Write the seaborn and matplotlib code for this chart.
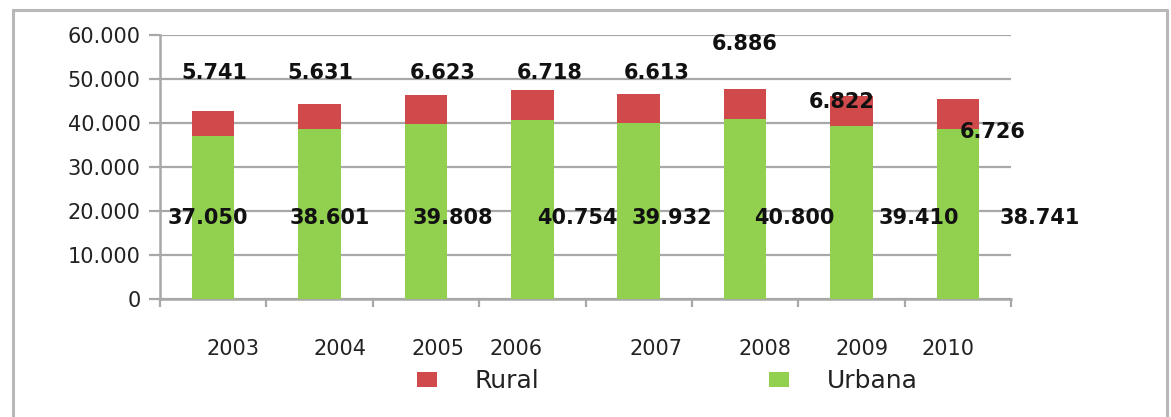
import matplotlib
matplotlib.use("Agg")
import matplotlib.pyplot as plt
from matplotlib.lines import Line2D
from matplotlib.patches import Patch
import seaborn as sns
import pandas as pd

# ---- data ----
years = ["2003", "2004", "2005", "2006", "2007", "2008", "2009", "2010"]
urbana = [37050, 38601, 39808, 40754, 39932, 40800, 39410, 38741]
rural = [5741, 5631, 6623, 6718, 6613, 6886, 6822, 6726]
urbana_labels = ["37.050", "38.601", "39.808", "40.754", "39.932", "40.800", "39.410", "38.741"]
rural_labels = ["5.741", "5.631", "6.623", "6.718", "6.613", "6.886", "6.822", "6.726"]
y_ticks = [0, 10000, 20000, 30000, 40000, 50000, 60000]
y_tick_labels = ["0", "10.000", "20.000", "30.000", "40.000", "50.000", "60.000"]

# ---- layout (label placements as in the reference) ----
urb_lab_x = [-0.05, 1.10, 2.25, 3.42, 4.31, 5.46, 6.63, 7.77]
urb_lab_y = [18400] * 8
rur_lab_x = [0.01, 1.01, 2.16, 3.16, 4.17, 5.00, 5.91, 7.33]
rur_lab_y = [51400, 51400, 51400, 51400, 51400, 58000, 44700, 37900]
year_lab_x = [0.19, 1.19, 2.11, 2.85, 4.16, 5.19, 6.10, 6.91]

RED = "#d04a4c"
GREEN = "#92d050"
GRID = "#a8a8a8"
TXT = "#222222"

df = pd.DataFrame({"year": years, "urbana": urbana, "rural": rural})
df["total"] = df["urbana"] + df["rural"]

sns.set_theme(style="white")
plt.rcParams["font.family"] = ["DejaVu Sans"]

W, H = 1171, 417
fig = plt.figure(figsize=(W / 100, H / 100), dpi=100)
ax = fig.add_axes([160 / W, 1 - 299 / H, (1011 - 160) / W, (299 - 35) / H])

sns.barplot(data=df, x="year", y="total", color=RED, width=0.4,
            saturation=1, ax=ax, zorder=3, linewidth=0)
sns.barplot(data=df, x="year", y="urbana", color=GREEN, width=0.4,
            saturation=1, ax=ax, zorder=4, linewidth=0)

ax.set_xlim(-0.5, len(years) - 0.5)
ax.set_ylim(0, 60000)
ax.set_xlabel("")
ax.set_ylabel("")

ax.set_yticks(y_ticks)
ax.set_yticklabels(y_tick_labels, fontsize=15, color=TXT)
ax.yaxis.grid(True, color=GRID, linewidth=1.6, zorder=0)
ax.set_axisbelow(True)
ax.tick_params(axis="y", length=8, width=1.6, color=GRID, pad=6, left=True)

# category boundary tick marks (major) and year labels (minor)
ax.set_xticks([i - 0.5 for i in range(len(years) + 1)])
ax.set_xticklabels([""] * (len(years) + 1))
ax.tick_params(axis="x", which="major", length=6, width=1.6, color=GRID,
               bottom=True, direction="out")
ax.set_xticks(year_lab_x, minor=True)
ax.set_xticklabels(years, minor=True, fontsize=15, color=TXT)
ax.tick_params(axis="x", which="minor", length=0, pad=29)

for s in ["top", "right"]:
    ax.spines[s].set_visible(False)
for s in ["left", "bottom"]:
    ax.spines[s].set_color(GRID)
    ax.spines[s].set_linewidth(1.8)

for x, y, t in zip(urb_lab_x, urb_lab_y, urbana_labels):
    ax.text(x, y, t, ha="center", va="center", fontsize=15,
            fontweight="bold", color="#111111", zorder=6)
for x, y, t in zip(rur_lab_x, rur_lab_y, rural_labels):
    ax.text(x, y, t, ha="center", va="center", fontsize=15,
            fontweight="bold", color="#111111", zorder=6)

handles = [Patch(facecolor=RED, edgecolor="none"),
           Patch(facecolor=GREEN, edgecolor="none")]
fig.legend(handles, ["Rural", "Urbana"], loc="center left",
           bbox_to_anchor=(417 / W, 1 - 381 / H), ncol=2, frameon=False,
           fontsize=18, handlelength=0.8, handleheight=0.55,
           handletextpad=1.5, columnspacing=9.2, borderpad=0,
           borderaxespad=0, labelcolor=TXT)

# outer chart frame (left, top, right)
frame_kw = dict(color="#b8b8b8", linewidth=2.2, transform=fig.transFigure)
fig.add_artist(Line2D([13 / W, 13 / W], [0, 1 - 10 / H], **frame_kw))
fig.add_artist(Line2D([13 / W, 1167 / W], [1 - 10 / H, 1 - 10 / H], **frame_kw))
fig.add_artist(Line2D([1167 / W, 1167 / W], [0, 1 - 10 / H], **frame_kw))

fig.savefig("out.png", dpi=100)
